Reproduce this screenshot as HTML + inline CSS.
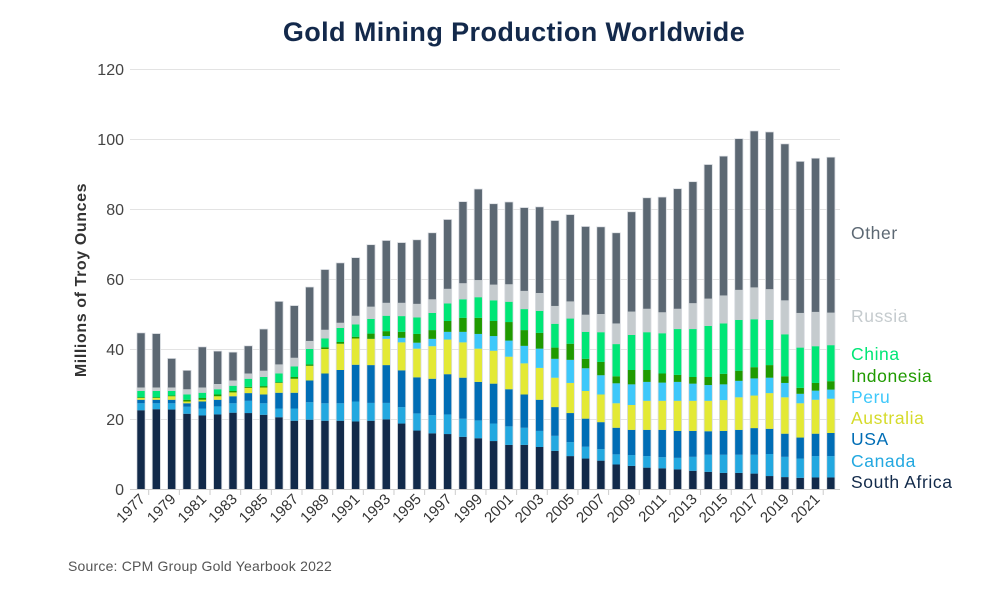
<!DOCTYPE html>
<html><head><meta charset="utf-8"><style>
body{margin:0;background:#fff;width:990px;height:584px;overflow:hidden}
svg{font-family:"Liberation Sans",sans-serif}
</style></head><body>
<svg id="s" width="990" height="584" xmlns="http://www.w3.org/2000/svg">
<text x="514" y="41" text-anchor="middle" font-size="27" font-weight="bold" letter-spacing="0.4" fill="#13294b">Gold Mining Production Worldwide</text>
<g stroke="#e3e3e3" stroke-width="1">
<line x1="130" x2="840" y1="69.5" y2="69.5"/><line x1="130" x2="840" y1="139.5" y2="139.5"/><line x1="130" x2="840" y1="209.5" y2="209.5"/><line x1="130" x2="840" y1="279.5" y2="279.5"/><line x1="130" x2="840" y1="349.5" y2="349.5"/><line x1="130" x2="840" y1="419.5" y2="419.5"/>
</g>
<g font-size="16" fill="#444" text-anchor="end">
<text x="124" y="75">120</text><text x="124" y="145">100</text><text x="124" y="215">80</text><text x="124" y="285">60</text><text x="124" y="355">40</text><text x="124" y="425">20</text><text x="124" y="495">0</text>
</g>
<text transform="translate(86,280) rotate(-90)" text-anchor="middle" font-size="16" font-weight="bold" letter-spacing="0.6" fill="#333">Millions of Troy Ounces</text>
<g id="bars"></g>
<line x1="130" x2="840" y1="489.5" y2="489.5" stroke="#ccc"/>
<g id="ticks" stroke="#ccc"></g>
<g font-size="15" fill="#333" text-anchor="end">
<text transform="translate(146,500) rotate(-45)">1977</text>
<text transform="translate(176.7,500) rotate(-45)">1979</text>
<text transform="translate(207.3,500) rotate(-45)">1981</text>
<text transform="translate(238,500) rotate(-45)">1983</text>
<text transform="translate(268.6,500) rotate(-45)">1985</text>
<text transform="translate(299.3,500) rotate(-45)">1987</text>
<text transform="translate(330,500) rotate(-45)">1989</text>
<text transform="translate(360.6,500) rotate(-45)">1991</text>
<text transform="translate(391.3,500) rotate(-45)">1993</text>
<text transform="translate(422,500) rotate(-45)">1995</text>
<text transform="translate(452.6,500) rotate(-45)">1997</text>
<text transform="translate(483.3,500) rotate(-45)">1999</text>
<text transform="translate(514,500) rotate(-45)">2001</text>
<text transform="translate(544.6,500) rotate(-45)">2003</text>
<text transform="translate(575.3,500) rotate(-45)">2005</text>
<text transform="translate(605.9,500) rotate(-45)">2007</text>
<text transform="translate(636.6,500) rotate(-45)">2009</text>
<text transform="translate(667.3,500) rotate(-45)">2011</text>
<text transform="translate(697.9,500) rotate(-45)">2013</text>
<text transform="translate(728.6,500) rotate(-45)">2015</text>
<text transform="translate(759.3,500) rotate(-45)">2017</text>
<text transform="translate(789.9,500) rotate(-45)">2019</text>
<text transform="translate(820.6,500) rotate(-45)">2021</text>
</g>
<g font-size="17.5" letter-spacing="0.6">
<text x="851" y="239" fill="#5c6873">Other</text>
<text x="851" y="322" fill="#c5cbce">Russia</text>
<text x="851" y="360" fill="#00e676">China</text>
<text x="851" y="382" fill="#1f9a00">Indonesia</text>
<text x="851" y="403" fill="#3ec8fa">Peru</text>
<text x="851" y="424" fill="#d5db2a">Australia</text>
<text x="851" y="445" fill="#006db5">USA</text>
<text x="851" y="467" fill="#23a8e0">Canada</text>
<text x="851" y="488" fill="#122a4a">South Africa</text>
</g>
<text x="68" y="571" font-size="14" letter-spacing="0.2" fill="#555">Source: CPM Group Gold Yearbook 2022</text>
</svg>
<script>
var D=[
[22.5,24.5,25.5,26,26,26.2,28,29,44.5],[22.8,24.5,25.5,26,26,26.2,28,29,44.3],[22.7,24.5,25.5,26.5,26.5,26.7,28,29,37.2],[21.5,23.5,24.5,25,25,25.5,27,28.5,33.8],[21,23,25,25.5,25.5,26,27.5,29,40.5],[21.3,23.6,25.5,26.5,26.5,27,28.5,30,39.3],[21.8,24.5,26.5,27.6,27.6,28,29.5,31,39],[21.7,25.2,27.4,28.9,28.9,29.2,31.5,33,40.8],[21.2,24.5,27,29,29,29.4,32,33.8,45.6],[20.5,23,27.5,30.3,30.3,30.5,33,35.6,53.5],[19.5,23,27.5,31.5,31.5,32,35,37.5,52.3],[19.8,24.8,31,35.2,35.2,35.6,40,42.3,57.6],[19.5,24.5,33,40,40,40.5,43,45.5,62.6],[19.5,24.5,34,41.5,41.5,42,46,47.5,64.5],[19.3,25,35.5,43,43,43.5,47,49.5,66],
[19.5,24.6,35.4,42.9,42.9,44.4,48.6,52.1,69.7],[19.9,24.6,35.4,42.9,43.7,45.1,49.5,53.2,70.9],[18.7,23.4,33.9,41.9,43.2,44.9,49.4,53.2,70.3],[16.7,21.6,31.9,40.1,41.8,44.3,49,52.9,71.1],[15.9,21.1,31.5,40.8,42.9,45.4,50.3,54.2,73.1],[15.7,21.3,32.8,42.7,44.9,48,53,57.2,76.9],[14.9,20.1,31.8,41.9,44.9,48.9,54.2,58.8,82],[14.5,19.6,30.6,40.1,44.3,48.9,54.8,59.7,85.6],[13.7,18.7,30.1,39.5,43.7,48,53.9,58.4,81.4],[12.6,17.9,28.5,37.8,42.4,47.7,53.5,58.5,81.9],[12.6,17.5,27,35.9,40.9,45.4,51.4,56.6,80.3],[12,16.6,25.5,34.6,40.1,44.6,50.9,56,80.5],[10.9,15.2,23.4,31.8,37.2,40.4,47.2,52.3,76.6],[9.4,13.4,21.7,30.3,36.9,41.5,48.7,53.6,78.3],[8.7,12.1,20.1,28,34.5,37.2,44.9,49.8,74.9],[8.1,11.4,19.1,27,32.5,36.3,44.8,50,74.8],
[7,9.9,17.5,24.5,30.2,32.2,41.4,47.3,73.1],[6.6,9.7,16.9,24,29.9,34,44,50.7,79.1],[6.1,9.4,16.9,25.2,30.6,34,44.8,51.5,83.1],[5.9,9.1,16.9,25.2,30.4,33,44.5,50.5,83.3],[5.6,8.9,16.6,25.2,30.6,32.6,45.7,51.5,85.7],[5.2,9.2,16.6,25.2,30.1,32,45.7,53.1,87.7],[4.9,9.8,16.5,25.2,29.7,32,46.6,54.4,92.6],[4.6,9.8,16.6,25.4,29.9,32.9,47.3,55.3,95],[4.6,9.8,16.9,26.2,30.9,33.8,48.3,56.9,100],[4.4,9.8,17.4,26.7,31.6,34.8,48.5,57.6,102.2],[3.7,10,17.2,27.4,31.8,35.4,48.3,57.1,101.9],[3.4,9.2,15.8,26.2,30.3,32.2,44.2,53.9,98.5],[3.2,8.7,14.7,24.5,27.2,28.9,40.4,50.3,93.5],[3.3,9.4,15.8,25.5,28.1,30.3,40.8,50.6,94.4],[3.3,9.4,16,25.8,28.4,30.8,41.1,50.4,94.7]];
var C=["#122a4a","#23a8e0","#006db5","#e3e935","#3ec8fa","#1f9a00","#00e676","#c5cbce","#5c6873"];
var ns="http://www.w3.org/2000/svg",g=document.getElementById("bars"),t=document.getElementById("ticks");
D.forEach(function(d,i){var cx=141+i*15.33,prev=0;
var o=document.createElementNS(ns,"rect");o.setAttribute("x",cx-4.5);o.setAttribute("width",9);o.setAttribute("y",489-d[8]*3.5-0.7);o.setAttribute("height",d[8]*3.5+0.7);o.setAttribute("fill","#d8dbe0");g.appendChild(o);
d.forEach(function(v,k){var r=document.createElementNS(ns,"rect");r.setAttribute("x",cx-3.7);r.setAttribute("width",7.4);r.setAttribute("y",489-v*3.5);r.setAttribute("height",Math.max(0,(v-prev)*3.5));r.setAttribute("fill",C[k]);g.appendChild(r);prev=v;});
if(i%2==0){var l=document.createElementNS(ns,"line");var x=cx+7.7;l.setAttribute("x1",x);l.setAttribute("x2",x);l.setAttribute("y1",489);l.setAttribute("y2",495);t.appendChild(l);}
});
</script>
</body></html>
